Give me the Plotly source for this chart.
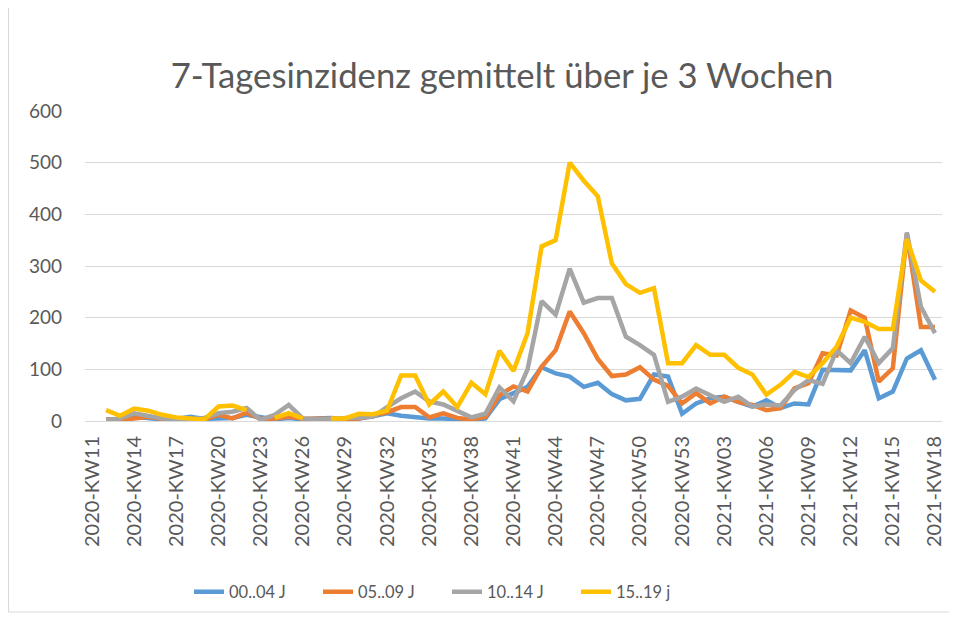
import plotly.graph_objects as go

# Categories: calendar weeks 2020-KW11 .. 2021-KW18
weeks = [f"2020-KW{w:02d}" for w in range(11, 54)] + [f"2021-KW{w:02d}" for w in range(1, 19)]
tick_labels = weeks[::3]

series_names = ["00..04 J", "05..09 J", "10..14 J", "15..19 j"]

v_00_04 = [None, 3, 3, 8, 5, 3, 4, 8, 4, 5, 6,
           12, 8, 3, 6, 3, 5, 6, 4, 5, 9,
           15, 10, 7, 5, 5, 4, 1, 5, 42, 54,
           66, 104, 92, 86, 66, 74, 52, 40, 43, 90,
           86, 14, 34, 44, 47, 37, 28, 40, 25, 34,
           32, 99, 98, 98, 137, 44, 57, 121, 137, 80]

v_05_09 = [None, 3, 2, 5, 8, 4, 1, 2, 3, 12, 5,
           16, 4, 5, 8, 5, 4, 3, 4, 5, 10,
           17, 27, 27, 7, 15, 6, 3, 8, 50, 67,
           57, 105, 137, 212, 170, 120, 87, 90, 104, 80,
           68, 34, 54, 34, 47, 37, 31, 21, 25, 63,
           73, 131, 127, 214, 200, 76, 102, 362, 182, 182]

v_10_14 = [None, 2, 5, 15, 10, 5, 3, 2, 6, 15, 18,
           25, 2, 12, 31, 5, 3, 4, 5, 6, 8,
           27, 44, 57, 38, 32, 19, 7, 14, 65, 38,
           100, 232, 206, 295, 229, 238, 238, 163, 147, 128,
           37, 47, 63, 50, 37, 47, 28, 32, 30, 60,
           79, 72, 137, 112, 163, 112, 141, 365, 221, 170]

v_15_19 = [None, 21, 10, 24, 20, 12, 7, 5, 3, 28, 30,
           21, None, 6, 15, 5, None, 5, 5, 14, 13,
           20, 88, 88, 32, 57, 27, 74, 52, 136, 97,
           170, 338, 350, 500, 465, 435, 305, 265, 248, 257,
           112, 112, 147, 128, 128, 103, 90, 51, 70, 95,
           85, 112, 144, 200, 192, 178, 178, 352, 272, 250]

colors = ["#5B9BD5", "#ED7D31", "#A5A5A5", "#FFC000"]
all_values = [v_00_04, v_05_09, v_10_14, v_15_19]

FONT = "Lato"
TXT = "#595959"

fig = go.Figure()
for name, vals, col in zip(series_names, all_values, colors):
    fig.add_trace(go.Scatter(
        x=weeks, y=vals, name=name, mode="lines",
        line=dict(color=col, width=4.5, shape="linear"),
        connectgaps=False,
    ))

OFF = 8  # page body margin
W, H = 957 - OFF, 621 - OFF
# plot area in page pixels: x 85..942, y 111..421
ML = 85 - OFF
MR = W - (942 - OFF)
MT = 111 - OFF
MB = H - (421 - OFF)
pw = W - ML - MR
ph = H - MT - MB

def px_x(x):
    return (x - OFF - ML) / pw

def px_y(y):
    return (MT + ph - (y - OFF)) / ph

fig.update_layout(
    width=W, height=H,
    margin=dict(l=ML, r=MR, t=MT, b=MB, pad=0),
    paper_bgcolor="white", plot_bgcolor="white",
    font=dict(family=FONT, color=TXT),
    title=dict(
        text="7-Tagesinzidenz gemittelt über je 3 Wochen",
        font=dict(family=FONT, size=34.7, color=TXT),
        xref="container", x=(502 - OFF) / W, xanchor="center",
        yref="container", y=1 - (76 - OFF) / H, yanchor="middle",
    ),
    xaxis=dict(
        type="category", categoryorder="array", categoryarray=weeks,
        range=[-0.5, len(weeks) - 0.5],
        tickmode="array", tickvals=tick_labels, ticktext=tick_labels,
        tickangle=-90, tickfont=dict(family=FONT, size=20, color=TXT),
        showgrid=False, showline=False, zeroline=False, ticks="",
        ticklabelstandoff=10,
    ),
    yaxis=dict(
        range=[0, 600], tickvals=[0, 100, 200, 300, 400, 500, 600],
        tickfont=dict(family=FONT, size=19, color=TXT),
        showgrid=True, gridcolor="#D9D9D9", gridwidth=1.3,
        zeroline=True, zerolinecolor="#D9D9D9", zerolinewidth=1.3,
        showline=False, ticks="", ticklabelstandoff=22,
    ),
    showlegend=True,
    legend=dict(
        orientation="h", x=px_x(189), xanchor="left",
        y=px_y(592), yanchor="middle",
        font=dict(family=FONT, size=16.5, color=TXT),
        entrywidth=84, entrywidthmode="pixels",
        bgcolor="rgba(0,0,0,0)",
    ),
    shapes=[
        dict(type="line", xref="paper", yref="paper", x0=px_x(8.5), x1=px_x(8.5),
             y0=px_y(-10), y1=px_y(612), line=dict(color="#D9D9D9", width=1)),
        dict(type="line", xref="paper", yref="paper", x0=px_x(8.5), x1=px_x(951),
             y0=px_y(612), y1=px_y(612), line=dict(color="#D9D9D9", width=1)),
        dict(type="line", xref="paper", yref="paper", x0=px_x(951), x1=px_x(951),
             y0=px_y(-10), y1=px_y(612), line=dict(color="#D9D9D9", width=1)),
    ],
)

fig.write_html("out.html")
